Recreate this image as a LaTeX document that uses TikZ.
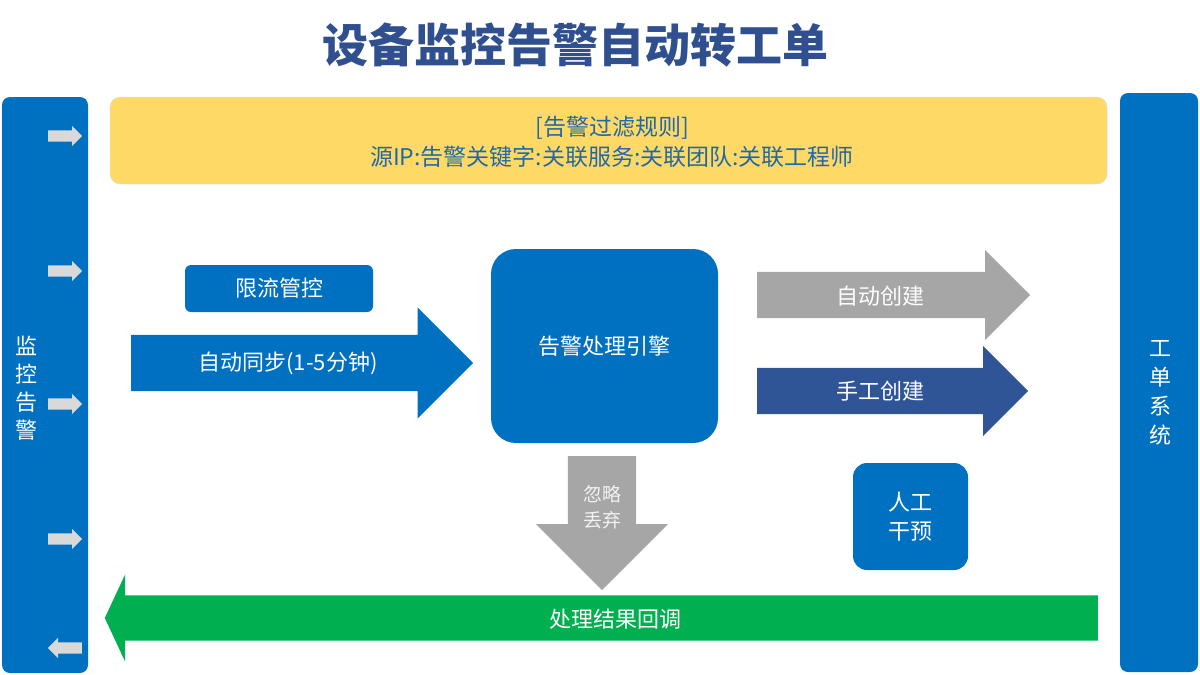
\documentclass[tikz,border=0pt]{standalone}
\usepackage{fontspec}
\setmainfont{Noto Sans CJK SC}
\usetikzlibrary{shapes,shapes.arrows,positioning}

\definecolor{mainblue}{RGB}{0,112,192}
\definecolor{titleblue}{RGB}{47,79,143}
\definecolor{ruleyellow}{RGB}{255,217,102}
\definecolor{ruletext}{RGB}{31,105,170}
\definecolor{arrowgray}{RGB}{166,166,166}
\definecolor{darkblue}{RGB}{47,85,151}
\definecolor{okgreen}{RGB}{0,176,80}
\definecolor{tickgray}{RGB}{217,217,217}

\begin{document}
\begin{tikzpicture}[x=1pt,y=-1pt,
card/.style={
rectangle,inner sep=0pt,rounded corners=#1, % blue boxes
fill=mainblue,text=white,align=center,
font=\fontsize{22}{29}\selectfont}]

\tikzset{
  title/.style={font={\fontsize{46}{52}\selectfont\bfseries},text=titleblue},
  fat/.style={single arrow,anchor=tail,draw=none},
  tick/.style={fat,fill=tickgray,inner sep=5.5pt,single arrow head extend=4.5pt,minimum height=34pt},
  label/.style={text=white,align=center,font=\fontsize{22}{29}\selectfont}
}

    \useasboundingbox (0,0) rectangle (1200,675);
    \node[title] (head) at (575,45) {设备监控告警自动转工单};

    % side bars
    \node[card=8pt,minimum width=86pt,minimum height=576pt] (mon) at (45,385) {};
    \node[label,font=\fontsize{22}{28}\selectfont] at (26,388) {监\\控\\告\\警};
    \node[card=8pt,minimum width=78pt,minimum height=579pt] (ticket) at (1159,382.5) {};
    \node[label,font=\fontsize{22}{29}\selectfont] at (1160,393) {工\\单\\系\\统};
    \foreach \y in {136,271,404,539}
      \node[tick] (in-\y) at (48,\y) {};
    \node[tick,shape border rotate=180] (out) at (82,648) {};

    % filter rules
    \node[rectangle,rounded corners=10pt,fill=ruleyellow,draw=black!12,
      minimum width=997pt,minimum height=87pt] (rules) at (608.5,140.5) {};
    \node[text=ruletext,align=center,font=\fontsize{23}{30}\selectfont] at (612,142)
      {[告警过滤规则]\\源IP:告警关键字:关联服务:关联团队:关联工程师};

    \node[card=6pt,minimum width=188pt,minimum height=47pt] (limit) at (279,288.5) {限流管控};
    \node[fat,fill=mainblue,inner sep=28pt,single arrow head extend=27.5pt,
      minimum height=342pt] (sync) at (131,363) {};
    \node[label] at (288,363) {自动同步(1-5分钟)};

    \node[card=25pt,minimum width=227pt,minimum height=194pt] (engine) at (604.5,346) {告警处理引擎};

    \node[fat,fill=arrowgray,inner sep=23pt,single arrow head extend=22pt,
      minimum height=273pt] (auto) at (757,295) {};
    \node[label] at (880,296) {自动创建};
    \node[fat,fill=darkblue,inner sep=23pt,single arrow head extend=22pt,
      minimum height=271pt] (manual) at (757,391) {};
    \node[label] at (880,391) {手工创建};

    \node[card=14pt,minimum width=115pt,minimum height=107pt] (human) at (910.5,516.5) {人工\\干预};

    \node[fat,fill=arrowgray,inner sep=34pt,single arrow head extend=32pt,
      minimum height=134pt,shape border rotate=270] (drop) at (602,456) {};
    \node[label,text=black!5,font=\fontsize{19}{26}\selectfont] at (602,507) {忽略\\丢弃};

    \node[fat,fill=okgreen,inner sep=22.5pt,single arrow head extend=21pt,
      single arrow tip angle=130,minimum height=993pt,shape border rotate=180] (callback) at (1098,618) {};
    \node[label] at (615,619) {处理结果回调};

\end{tikzpicture}
\end{document}
